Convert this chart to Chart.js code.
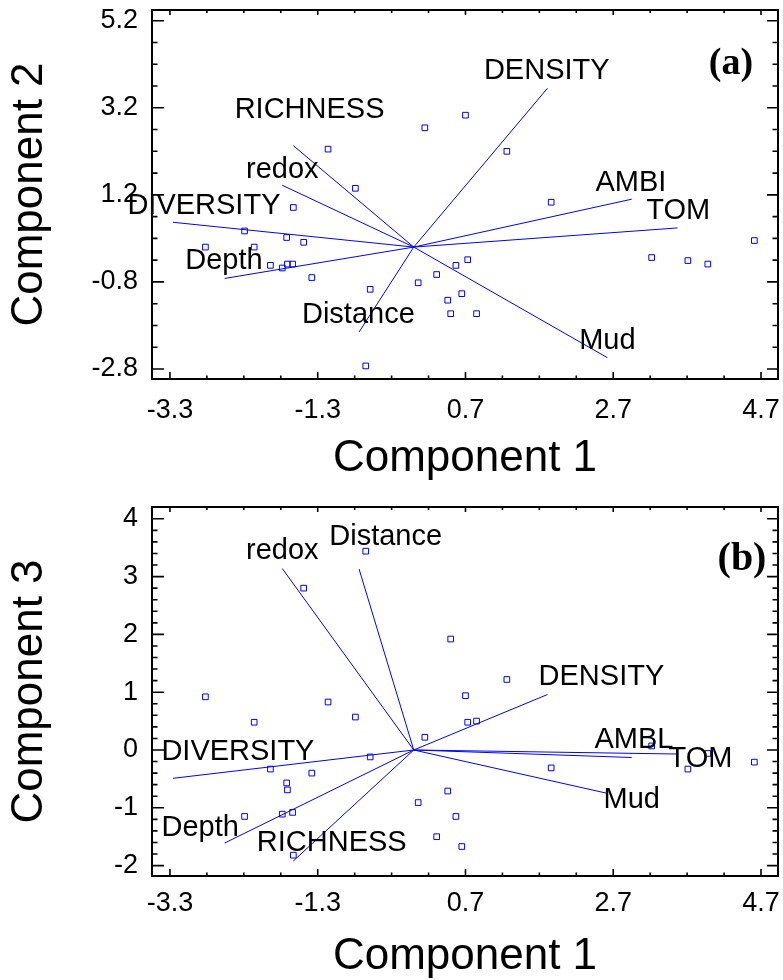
<!DOCTYPE html>
<html><head><meta charset="utf-8">
<script src="https://cdn.jsdelivr.net/npm/chart.js@4.4.0/dist/chart.umd.min.js"></script>
<style>html,body{margin:0;padding:0;background:#fff;}canvas{display:block;}</style>
</head><body>
<canvas id="ca" width="783" height="490"></canvas>
<canvas id="cb" width="783" height="490"></canvas>
<script>
// ---- site scores (components 1, 2, 3) ----
const sitePC1 = [-2.82,-2.29,-2.16,-1.94,-1.78,-1.72,-1.71,-1.64,-1.63,-1.49,-1.38,-1.16,-0.79,-0.65,-0.59,0.06,0.15,0.31,0.46,0.50,0.57,0.65,0.70,0.73,0.85,1.26,1.86,3.22,3.71,3.98,4.61];
const sitePC2 = [0.00,0.37,0.00,-0.42,-0.48,0.22,-0.39,-0.39,0.91,0.11,-0.70,2.25,1.35,-2.73,-0.97,-0.82,2.74,-0.63,-1.22,-1.53,-0.42,-1.07,3.03,-0.29,-1.53,2.20,1.03,-0.24,-0.31,-0.39,0.15];
const sitePC3 = [0.92,-1.15,0.48,-0.33,-1.11,-0.57,-0.69,-1.08,-1.82,2.80,-0.40,0.83,0.57,3.44,-0.12,-0.91,0.22,-1.50,-0.71,1.92,-1.15,-1.67,0.94,0.48,0.50,1.22,-0.31,0.07,-0.33,-0.06,-0.21];

// ---- variable vectors ----
const varNamesA = ['DENSITY','AMBI','TOM','Mud','RICHNESS','redox','DIVERSITY','Depth','Distance'];
const varNamesB = ['DENSITY','AMBL','TOM','Mud','RICHNESS','redox','DIVERSITY','Depth','Distance'];
const loadPC1 = [1.81,2.95,3.57,2.62,-1.63,-1.78,-3.26,-2.56,-0.74];
const loadPC2 = [3.65,1.10,0.44,-2.54,2.33,1.42,0.57,-0.72,-1.95];
const loadPC3 = [0.96,-0.13,-0.07,-0.75,-1.92,3.14,-0.49,-1.61,3.13];

// ---- tick values ----
const xTicks = [-3.3,-1.3,0.7,2.7,4.7];
const yTicksA = [-2.8,-0.8,1.2,3.2,5.2];
const yTicksB = [-2,-1,0,1,2,3,4];

// ---- layout (label anchors in axis units, not data) ----
const labelPosA = [[1.80,4.04],[2.94,1.48],[3.58,0.84],[2.62,-2.15],[-1.41,3.15],[-1.78,1.77],[-2.84,0.95],[-2.57,-0.32],[-0.75,-1.55]];
const labelPosB = [[2.54,1.26],[2.98,0.17],[3.88,-0.15],[2.95,-0.87],[-1.11,-1.61],[-1.78,3.44],[-2.38,-0.04],[-2.89,-1.35],[-0.38,3.69]];

const FAM = '"Liberation Sans", Arial, Helvetica, sans-serif';
const BLUE = '#0000ff';

const overlay = {
  id: 'overlay',
  afterDatasetsDraw(chart, args, o) {
    const {ctx, chartArea: a, scales: {x, y}} = chart;
    ctx.save();
    ctx.fillStyle = '#000';
    ctx.font = '29px ' + FAM;
    ctx.textAlign = 'center';
    ctx.textBaseline = 'middle';
    o.names.forEach((t, i) => {
      ctx.fillText(t, x.getPixelForValue(o.pos[i][0]), y.getPixelForValue(o.pos[i][1]));
    });
    ctx.strokeStyle = '#000';
    ctx.lineWidth = 2;
    ctx.strokeRect(a.left, a.top, a.right - a.left, a.bottom - a.top);
    function tickSet(scale, majors, step) {
      const res = [];
      const first = majors[0];
      let v = first - step * Math.ceil((first - scale.min) / step);
      for (; v <= scale.max + 1e-9; v += step) {
        if (v < scale.min - 1e-9) continue;
        const isMajor = majors.some(m => Math.abs(m - v) < 1e-6);
        res.push({p: scale.getPixelForValue(v), major: isMajor});
      }
      return res;
    }
    ctx.lineWidth = 1.6;
    ctx.beginPath();
    tickSet(x, o.xMajor, o.xStep).forEach(t => {
      const L = t.major ? 7 : 3.5;
      ctx.moveTo(t.p, a.bottom); ctx.lineTo(t.p, a.bottom - L);
      ctx.moveTo(t.p, a.top); ctx.lineTo(t.p, a.top + (t.major ? 5 : 3));
    });
    tickSet(y, o.yMajor, o.yStep).forEach(t => {
      const L = t.major ? 12 : 5.5;
      ctx.moveTo(a.left, t.p); ctx.lineTo(a.left + L, t.p);
      ctx.moveTo(a.right, t.p); ctx.lineTo(a.right - (t.major ? 11 : 5.5), t.p);
    });
    ctx.stroke();
    ctx.font = 'bold ' + o.tagSize + 'px "Liberation Serif", "Times New Roman", serif';
    ctx.fillText(o.tag, a.right - o.tagDx, a.top + o.tagDy);
    ctx.restore();
  }
};

function noPad(s) { s.paddingTop = 0; s.paddingBottom = 0; s.paddingLeft = 0; s.paddingRight = 0; }

function build(id, pcY, loadY, names, pos, yTicks, yStep, yMin, yMax, yTitle, fmt, L) {
  const datasets = [];
  for (let i = 0; i < names.length; i++) {
    datasets.push({
      data: [{x: 0, y: 0}, {x: loadPC1[i], y: loadY[i]}],
      showLine: true, borderColor: BLUE, borderWidth: 1, pointRadius: 0, fill: false, order: 2
    });
  }
  datasets.push({
    data: sitePC1.map((v, i) => ({x: v, y: pcY[i]})),
    pointStyle: 'rect', pointRadius: 4, borderColor: BLUE, borderWidth: 1,
    backgroundColor: 'rgba(0,0,0,0)', order: 1
  });
  return new Chart(document.getElementById(id), {
    type: 'scatter',
    data: {datasets},
    options: {
      responsive: false, animation: false, events: [],
      layout: {padding: {top: L.top, right: 4, bottom: 0, left: 0}},
      plugins: {
        legend: {display: false}, tooltip: {enabled: false},
        overlay: {names, pos, xMajor: xTicks, xStep: 0.5, yMajor: yTicks, yStep,
                  tag: L.tag, tagSize: L.tagSize, tagDx: L.tagDx, tagDy: L.tagDy}
      },
      scales: {
        x: {
          type: 'linear', min: -3.543, max: 4.93,
          afterBuildTicks: s => { s.ticks = xTicks.map(v => ({value: v})); },
          afterFit: s => { s.height = L.xh; noPad(s); },
          ticks: {callback: v => Number(v).toFixed(1), font: {family: FAM, size: 27}, color: '#000',
                  padding: L.xtp, maxRotation: 0, autoSkip: false},
          grid: {display: false, drawTicks: false}, border: {display: false},
          title: {display: true, text: 'Component 1', color: '#000',
                  font: {family: FAM, size: 44, lineHeight: 1}, padding: {top: 0, bottom: L.xtb}}
        },
        y: {
          type: 'linear', min: yMin, max: yMax,
          afterBuildTicks: s => { s.ticks = yTicks.map(v => ({value: v})); },
          afterFit: s => { s.width = 152; noPad(s); },
          ticks: {callback: fmt, font: {family: FAM, size: 27}, color: '#000', padding: 14, autoSkip: false},
          grid: {display: false, drawTicks: false}, border: {display: false},
          title: {display: true, text: yTitle, color: '#000',
                  font: {family: FAM, size: 44, lineHeight: 1}, padding: {top: 8, bottom: 0}}
        }
      }
    },
    plugins: [overlay]
  });
}

build('ca', sitePC2, loadPC2, varNamesA, labelPosA, yTicksA, 0.5, -3.03, 5.446, 'Component 2',
      v => Number(v).toFixed(1),
      {top: 10, xh: 111, xtp: 15, xtb: 9, tag: '(a)', tagSize: 38, tagDx: 47, tagDy: 54});
build('cb', sitePC3, loadPC3, varNamesB, labelPosB, yTicksB, 0.2, -2.18, 4.204, 'Component 3',
      v => String(Number(v)),
      {top: 17, xh: 104, xtp: 11, xtb: 1, tag: '(b)', tagSize: 40, tagDx: 36, tagDy: 53});
</script>
</body></html>
